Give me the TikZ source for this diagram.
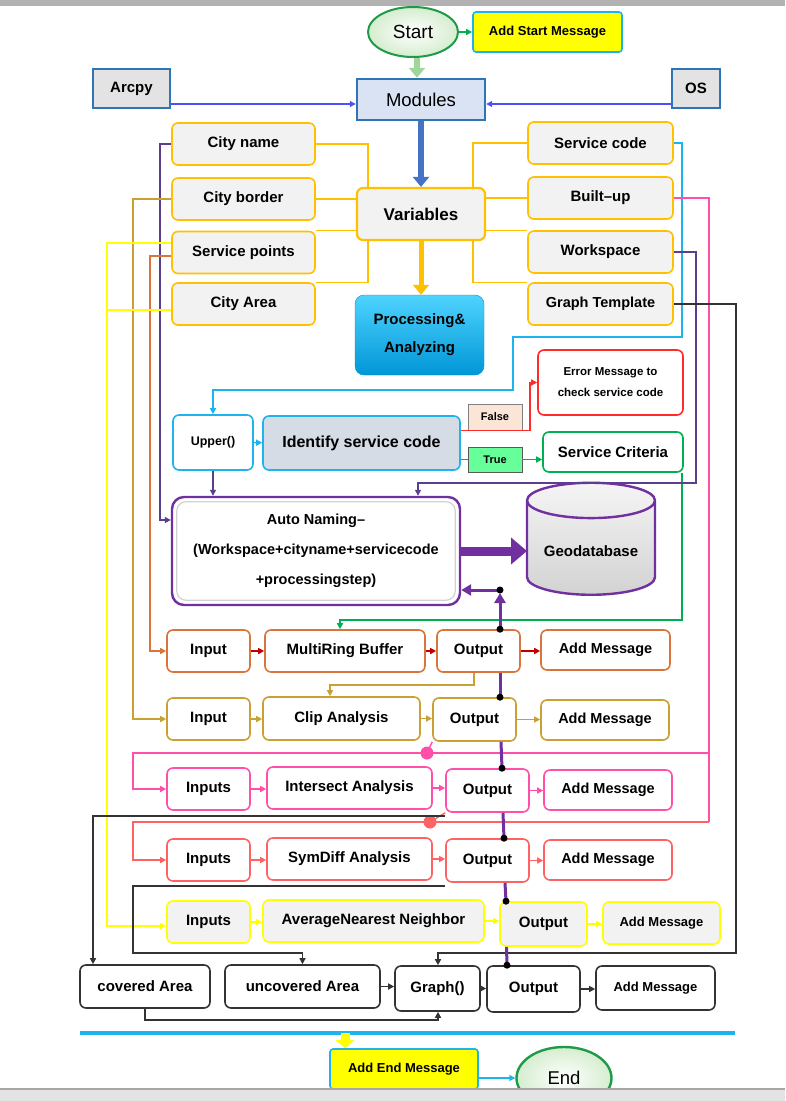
\documentclass[tikz,border=0pt]{standalone}
\usepackage{fontspec}
\setmainfont{Liberation Sans}
\usetikzlibrary{arrows.meta,shapes.geometric}

\definecolor{varorange}{HTML}{FFC000}
\definecolor{boxgray}{HTML}{F2F2F2}
\definecolor{modfill}{HTML}{DAE3F3}
\definecolor{modline}{HTML}{2E75B6}
\definecolor{arcline}{HTML}{4F4FF5}
\definecolor{steel}{HTML}{4472C4}
\definecolor{skyline}{HTML}{1DB4EE}
\definecolor{identfill}{HTML}{D6DCE5}
\definecolor{falsefill}{HTML}{FBE5D6}
\definecolor{truefill}{HTML}{66FF99}
\definecolor{errred}{HTML}{FF2B2B}
\definecolor{okgreen}{HTML}{00B050}
\definecolor{purp}{HTML}{7030A0}
\definecolor{darkpurp}{HTML}{5B3F8C}
\definecolor{rowone}{HTML}{D9743A}
\definecolor{rowonearr}{HTML}{C00000}
\definecolor{rowtwo}{HTML}{C9A033}
\definecolor{rowthree}{HTML}{FF4FA8}
\definecolor{rowfour}{HTML}{FF6262}
\definecolor{rowfive}{HTML}{FFFF00}
\definecolor{rowsix}{HTML}{333333}
\definecolor{startgreen}{HTML}{1F9A48}
\definecolor{startfill}{HTML}{D5EDCF}
\definecolor{arrowgreen}{HTML}{9FD69A}
\definecolor{proctop}{HTML}{4FD3FF}
\definecolor{procbot}{HTML}{0096D6}

\begin{document}
\begin{tikzpicture}[x=1pt, y=-1pt, >={Triangle[length=6,width=6]},
    box/.style={draw, rounded corners=6, line width=1.6, align=center, font=\fontsize{15}{18}\selectfont\bfseries},
    var/.style={box, draw=varorange, fill=boxgray, minimum width=143, minimum height=42},
    rowbox/.style={box, fill=white, minimum height=42},
    msg/.style={draw=skyline, fill=rowfive, rounded corners=3, line width=1.6, font=\fontsize{13}{15}\selectfont\bfseries},
    small/.style={font=\fontsize{13}{15}\selectfont\bfseries},
    link/.style={line width=1.4},
    fat/.style={line width=6, -{Triangle[length=10,width=16]}}]
        \useasboundingbox (0,0) rectangle (785,1101);

        % start and modules
        \node(start) at (413,32) [ellipse, draw=startgreen, line width=2, inner color=white, outer color=startfill, minimum width=90, minimum height=50, font=\fontsize{19}{22}\selectfont]{Start};
        \node(smsg) at (547.5,32) [msg, minimum width=149, minimum height=40]{Add Start Message};
        \node(arcpy) at (131.5,88.5) [draw=modline, fill=gray!22, line width=1.6, minimum width=77, minimum height=39, font=\fontsize{15}{18}\selectfont\bfseries]{Arcpy};
        \node(os) at (696,88.5) [draw=modline, fill=gray!22, line width=1.6, minimum width=48, minimum height=39, font=\fontsize{15}{18}\selectfont\bfseries]{OS};
        \node(mods) at (421,99.5) [draw=modline, fill=modfill, line width=2.4, minimum width=128, minimum height=41, font=\fontsize{18.5}{22}\selectfont]{Modules};

        % variables
        \node(vars) at (421,214) [box, draw=varorange, fill=boxgray, line width=2.2, minimum width=128, minimum height=52, font=\fontsize{17}{20}\selectfont\bfseries]{Variables};
        \node(cname) at (243.5,144) [var]{City name};
        \node(cborder) at (243.5,199) [var]{City border};
        \node(spts) at (243.5,252.5) [var]{Service points};
        \node(carea) at (243.5,304) [var]{City Area};
        \node(scode) at (600.5,143) [var, minimum width=145]{Service code};
        \node(bup) at (600.5,198) [var, minimum width=145]{Built–up};
        \node(wsp) at (600.5,252) [var, minimum width=145]{Workspace};
        \node(gtpl) at (600.5,304) [var, minimum width=145, font=\fontsize{14.5}{17}\selectfont\bfseries]{Graph Template};

        \node(proc) at (419.5,335) [draw=procbot, rounded corners=9, top color=proctop, bottom color=procbot, minimum width=129, minimum height=80, align=center, font=\fontsize{15}{18}\selectfont\bfseries]{Processing\&\\[10pt]Analyzing};

        % service code check
        \node(upper) at (213,442.5) [box, draw=skyline, fill=white, minimum width=80, minimum height=55, font=\fontsize{12.5}{15}\selectfont\bfseries]{Upper()};
        \node(ident) at (361.5,443) [box, draw=skyline, fill=identfill, minimum width=197, minimum height=54, font=\fontsize{16}{19}\selectfont\bfseries]{Identify service code};
        \node(fbox) at (495,417) [draw=gray, fill=falsefill, minimum width=54, minimum height=26, font=\fontsize{11}{13}\selectfont\bfseries]{False};
        \node(tbox) at (495,459.5) [draw=gray!70!black, fill=truefill, minimum width=54, minimum height=25, font=\fontsize{11}{13}\selectfont\bfseries]{True};
        \node(err) at (610.5,382.5) [box, draw=errred, fill=white, minimum width=145, minimum height=65, font=\fontsize{11.5}{14}\selectfont\bfseries]{Error Message to\\[7pt]check service code};
        \node(crit) at (613,452) [box, draw=okgreen, fill=white, minimum width=140, minimum height=40]{Service Criteria};

        \node(auto) at (316,551) [box, draw=purp, line width=2.4, rounded corners=12, fill=white, minimum width=288, minimum height=108, font=\fontsize{14.5}{17}\selectfont\bfseries]{Auto Naming–\\[13pt](Workspace+cityname+servicecode\\[13pt]+processingstep)};
        \draw[gray!35, line width=1.2, rounded corners=9] ([shift={(6,6)}]auto.north west) rectangle ([shift={(-6,-6)}]auto.south east);
        \node(gdb) at (591,551) [cylinder, shape border rotate=90, aspect=0.35, draw=purp, line width=2.4, top color=gray!8, bottom color=gray!35, minimum width=128, minimum height=112, font=\fontsize{15}{18}\selectfont\bfseries]{Geodatabase};

        % rows
        \node(in1) at (208.5,651) [rowbox, draw=rowone, minimum width=83]{Input};
        \node(mrb) at (345,651) [rowbox, draw=rowone, minimum width=160]{MultiRing Buffer};
        \node(o1) at (478.5,651) [rowbox, draw=rowone, minimum width=83]{Output};
        \node(am1) at (605.5,650) [rowbox, draw=rowone, minimum width=129, minimum height=40, font=\fontsize{14.5}{17}\selectfont\bfseries]{Add Message};

        \node(in2) at (208.5,719) [rowbox, draw=rowtwo, minimum width=83]{Input};
        \node(clip) at (341.5,718.5) [rowbox, draw=rowtwo, minimum width=157, minimum height=43]{Clip Analysis};
        \node(o2) at (474.5,719.5) [rowbox, draw=rowtwo, minimum width=83, minimum height=43]{Output};
        \node(am2) at (605,720) [rowbox, draw=rowtwo, minimum width=128, minimum height=40, font=\fontsize{14.5}{17}\selectfont\bfseries]{Add Message};

        \node(in3) at (208.5,789) [rowbox, draw=rowthree, minimum width=83]{Inputs};
        \node(isect) at (349.5,788) [rowbox, draw=rowthree, minimum width=165]{Intersect Analysis};
        \node(o3) at (487.5,790.5) [rowbox, draw=rowthree, minimum width=83, minimum height=43]{Output};
        \node(am3) at (608,790) [rowbox, draw=rowthree, minimum width=128, minimum height=40, font=\fontsize{14.5}{17}\selectfont\bfseries]{Add Message};

        \node(in4) at (208.5,860) [rowbox, draw=rowfour, minimum width=83]{Inputs};
        \node(symd) at (349.5,859) [rowbox, draw=rowfour, minimum width=165]{SymDiff Analysis};
        \node(o4) at (487.5,860.5) [rowbox, draw=rowfour, minimum width=83, minimum height=43]{Output};
        \node(am4) at (608,860) [rowbox, draw=rowfour, minimum width=128, minimum height=40, font=\fontsize{14.5}{17}\selectfont\bfseries]{Add Message};

        \node(in5) at (208.5,922) [rowbox, draw=rowfive, fill=boxgray, minimum width=83]{Inputs};
        \node(ann) at (373.5,921) [rowbox, draw=rowfive, fill=boxgray, minimum width=221]{AverageNearest Neighbor};
        \node(o5) at (543.5,924) [rowbox, draw=rowfive, fill=boxgray, minimum width=87, minimum height=44]{Output};
        \node(am5) at (661.5,923) [rowbox, draw=rowfive, fill=boxgray, minimum width=117, small]{Add Message};

        \node(cov) at (145,986.5) [rowbox, draw=rowsix, minimum width=130, minimum height=43]{covered Area};
        \node(uncov) at (302.5,986.5) [rowbox, draw=rowsix, minimum width=155, minimum height=43]{uncovered Area};
        \node(graph) at (437.5,988.5) [rowbox, draw=rowsix, minimum width=85, minimum height=45]{Graph()};
        \node(o6) at (533.5,989) [rowbox, draw=rowsix, minimum width=93, minimum height=46]{Output};
        \node(am6) at (655.5,988) [rowbox, draw=rowsix, minimum width=119, minimum height=44, small]{Add Message};

        % end
        \coordinate(sepl) at (80,1033);
        \coordinate(sepr) at (735,1033);
        \node(aend) at (404,1069) [msg, minimum width=148, minimum height=40]{Add End Message};
        \node(endn) at (564,1078) [ellipse, draw=startgreen, line width=2.4, inner color=white, outer color=startfill, minimum width=95, minimum height=62, font=\fontsize{18.5}{22}\selectfont]{End};

        % top connectors
        \draw[link, okgreen, ->](start) -- (smsg);
        \draw[fat, arrowgreen](start.south -| 417,0) -- (mods.north -| 417,0);
        \draw[link, arcline, ->](arcpy.east |- 0,104) -- (mods.west |- 0,104);
        \draw[link, arcline, ->](os.west |- 0,104) -- (mods.east |- 0,104);
        \draw[fat, steel](mods.south) -- (vars.north);
        \draw[fat, varorange, line width=5](vars.south) -- (proc.north -| vars.south);

        \draw[link, varorange](cname.east) -| (vars.north -| 368,0);
        \draw[link, varorange](cborder.east) -- (vars.west |- cborder.east);
        \draw[link, varorange](spts.north east) -- (vars.west |- spts.north east);
        \draw[link, varorange](vars.south -| 368,0) |- (carea.north east);
        \draw[link, varorange](scode.west) -| (vars.north -| 473,0);
        \draw[link, varorange](bup.west) -- (vars.east |- bup.west);
        \draw[link, varorange](wsp.north west) -- (vars.east |- wsp.north west);
        \draw[link, varorange](vars.south -| 473,0) |- (gtpl.north west);

        % service code
        \draw[link, skyline, ->](scode.east) -| (682,337) -| (513,390) -| (upper.north);
        \draw[link, skyline, ->](upper) -- (ident);
        \draw[link, errred, ->](ident.east |- fbox.south) -| (530,0 |- err.west) -- (err.west);
        \draw[link, okgreen](ident.east |- tbox.west) -- (tbox.west);
        \draw[link, okgreen, ->](tbox.east) -- (crit.west |- tbox.east);
        \draw[link, okgreen, ->](crit.south -| 682,0) -- (682,620) -| (mrb.north -| 340,0);

        % auto naming
        \draw[link, darkpurp, ->](cname.west) -| (160,520) -- (auto.west |- 0,520);
        \draw[link, darkpurp, ->](wsp.east) -| (696,483) -| (auto.north -| 418,0);
        \draw[link, darkpurp, ->](upper.south) -- (auto.north -| upper.south);
        \draw[purp, line width=9, -{Triangle[length=16,width=26]}](auto.east) -- (gdb.center -| 527,0);

        % row links
        \draw[link, rowone, ->](spts.west |- 0,256) -| (150,651) -- (in1.west);
        \draw[link, rowonearr, ->](in1) -- (mrb);
        \draw[link, rowonearr, ->](mrb) -- (o1);
        \draw[link, rowonearr, ->](o1.east) -- (am1.west |- o1.east);

        \draw[link, rowtwo, ->](cborder.west) -| (133,719) -- (in2.west);
        \draw[link, rowtwo, ->](o1.south -| 474,0) -- (474,685) -| (clip.north -| 330,0);
        \draw[link, rowtwo, ->](in2.east) -- (clip.west |- in2.east);
        \draw[link, rowtwo, ->](clip.east) -- (o2.west |- clip.east);
        \draw[link, rowtwo, ->](o2.east) -- (am2.west |- o2.east);

        \coordinate(pj) at (427,753);
        \coordinate(sj) at (430,822);
        \draw[link, rowthree](bup.east) -| (709,822);
        \draw[link, rowthree, ->](709,753) -| (133,789) -- (in3.west);
        \draw[link, rowthree](o2.south west) -- (pj);
        \fill[rowthree](pj) circle (6.5);
        \draw[link, rowthree, ->](in3.east) -- (isect.west |- in3.east);
        \draw[link, rowthree, ->](isect.east) -- (o3.west |- isect.east);
        \draw[link, rowthree, ->](o3.east) -- (am3.west |- o3.east);

        \draw[link, rowfour, ->](709,822) -| (133,860) -- (in4.west);
        \draw[link, rowfour](o3.south west) -- (sj);
        \fill[rowfour](sj) circle (6.5);
        \draw[link, rowfour, ->](in4.east) -- (symd.west |- in4.east);
        \draw[link, rowfour, ->](symd.east) -- (o4.west |- symd.east);
        \draw[link, rowfour, ->](o4.east) -- (am4.west |- o4.east);

        \draw[link, rowfive, ->](spts.west |- 0,243) -| (107,926) -- (in5.west |- 0,926);
        \draw[link, rowfive](carea.west |- 0,310) -- (107,310);
        \draw[link, rowfive, ->](in5.east) -- (ann.west |- in5.east);
        \draw[link, rowfive, ->](ann.east) -- (o5.west |- ann.east);
        \draw[link, rowfive, ->](o5.east) -- (am5.west |- o5.east);

        \draw[link, rowsix, ->](gtpl.east) -| (736,953) -| (graph.north -| 438,0);
        \draw[link, rowsix, ->](o3.south west |- 0,816) -| (cov.north -| 93,0);
        \draw[link, rowsix, ->](o4.south west |- 0,886) -| (133,953) -| (uncov.north);
        \draw[link, rowsix, ->](cov.south) -- (145,1020) -| (graph.south -| 438,0);
        \draw[link, rowsix, ->](uncov.east) -- (graph.west |- uncov.east);
        \draw[link, rowsix, ->](graph.east) -- (o6.west |- graph.east);
        \draw[link, rowsix, ->](o6.east) -- (am6.west |- o6.east);

        % output chain
        \coordinate(d1) at (o1.north -| 500,0);
        \coordinate(d2) at (o2.north -| 500,0);
        \coordinate(d3) at (o3.north -| 502,0);
        \coordinate(d4) at (o4.north -| 504,0);
        \coordinate(d5) at (o5.north -| 506,0);
        \coordinate(d6) at (o6.north -| 507,0);
        \coordinate(dtop) at (500,590);
        \draw[purp, line width=3](o1.south -| 500,0) -- (d2);
        \draw[purp, line width=3](o2.south -| 501,0) -- (d3);
        \draw[purp, line width=3](o3.south -| 503,0) -- (d4);
        \draw[purp, line width=3](o4.south -| 505,0) -- (d5);
        \draw[purp, line width=3](o5.south -| 506.5,0) -- (d6);
        \draw[purp, line width=3, -{Triangle[length=10,width=11]}, shorten >=3](d1) -- (dtop);
        \draw[purp, line width=3, -{Triangle[length=10,width=11]}](dtop) -- (auto.east |- dtop);
        \foreach \d in {d1,d2,d3,d4,d5,d6,dtop}
            \fill (\d) circle (3.5);

        % end part
        \draw[skyline, line width=4](sepl) -- (sepr);
        \draw[rowfive, line width=9, -{Triangle[length=8,width=18]}](sepl -| 345,0) -- (aend.north -| 345,0);
        \draw[link, skyline, ->](aend.east |- endn.west) -- (endn.west);

        % window bars
        \fill[gray!60](0,0) rectangle (785,6);
        \fill[gray!22](0,1088) rectangle (785,1101);
        \draw[gray!70, line width=1.5](0,1089) -- (785,1089);
    \end{tikzpicture}
\end{document}
